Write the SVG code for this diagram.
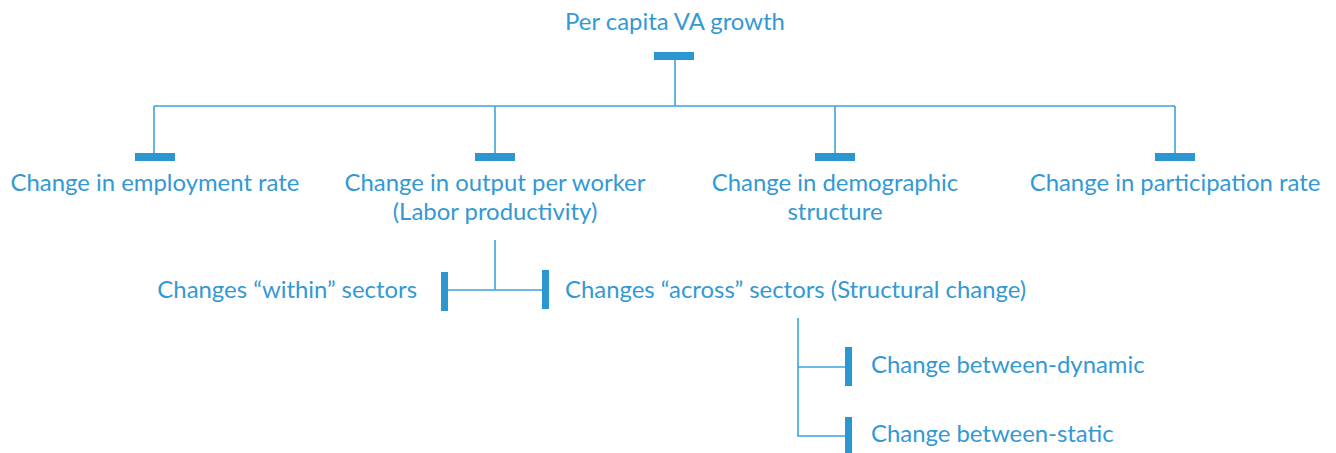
<svg xmlns="http://www.w3.org/2000/svg" width="1336" height="453" viewBox="0 0 1336 453">
<style>
text{font-family:Lato,"Open Sans","Liberation Sans",sans-serif;font-size:23.9px;fill:#3399d4}
.m{text-anchor:middle}
.e{text-anchor:end}
.ln{stroke:#3fa3da;stroke-width:1.6;fill:none}
.bar{fill:#2b96d0}
</style>
<rect width="1336" height="453" fill="#fff"/>
<g id="connectors">
<path class="ln" d="M675 59V106M154 106H1175M154 106V154M495 106V154M835 106V154M1175 106V154"/>
<path class="ln" d="M495 240V290M446 290H545"/>
<path class="ln" d="M798 318V436H846M798 367H846"/>
</g>
<g id="root"><rect class="bar" x="654" y="52" width="40" height="8"/><text class="m" x="675" y="30">Per capita VA growth</text></g>
<g id="employment"><rect class="bar" x="135" y="153" width="40" height="8"/><text class="m" x="155" y="191">Change in employment rate</text></g>
<g id="output"><rect class="bar" x="475" y="153" width="40" height="8"/><text class="m" x="495" y="191">Change in output per worker</text><text class="m" x="495" y="220">(Labor productivity)</text></g>
<g id="demographic"><rect class="bar" x="815" y="153" width="40" height="8"/><text class="m" x="835" y="191">Change in demographic</text><text class="m" x="835" y="220">structure</text></g>
<g id="participation"><rect class="bar" x="1155" y="153" width="40" height="8"/><text class="m" x="1175" y="191">Change in participation rate</text></g>
<g id="within"><rect class="bar" x="441" y="272" width="7" height="39"/><text class="e" x="417" y="298">Changes “within” sectors</text></g>
<g id="across"><rect class="bar" x="542" y="270" width="7" height="39"/><text x="565" y="298">Changes “across” sectors (Structural change)</text></g>
<g id="dynamic"><rect class="bar" x="845" y="347" width="7" height="39"/><text x="871" y="373">Change between-dynamic</text></g>
<g id="static"><rect class="bar" x="845" y="417" width="7" height="39"/><text x="871" y="442">Change between-static</text></g>
</svg>
